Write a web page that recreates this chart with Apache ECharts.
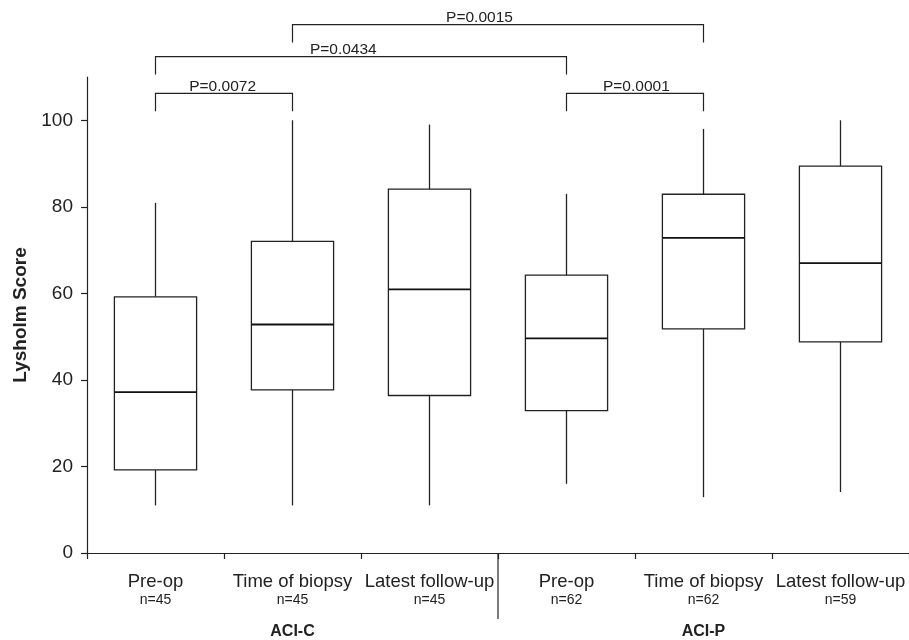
<!DOCTYPE html>
<html>
<head>
<meta charset="utf-8">
<script src="https://cdn.jsdelivr.net/npm/echarts@6/dist/echarts.min.js"></script>
<style>html,body{margin:0;padding:0;background:#fff;}#main{width:909px;height:640px;}</style>
</head>
<body>
<div id="main"></div>
<script>
// ---- data ----
var categories = ['Pre-op', 'Time of biopsy', 'Latest follow-up', 'Pre-op', 'Time of biopsy', 'Latest follow-up'];
var sampleSizes = [45, 45, 45, 62, 62, 59];
var groupNames = ['ACI-C', 'ACI-P'];
var groupStarts = [3];               // category index where the second group starts
var whiskerLow = [11, 11, 11, 16, 12.9, 14.1];
var quartile1 = [19.2, 37.7, 36.4, 32.9, 51.8, 48.8];
var medians = [37.2, 52.8, 60.9, 49.6, 72.8, 67.0];
var quartile3 = [59.2, 72.0, 84.1, 64.2, 82.9, 89.4];
var whiskerHigh = [80.9, 100, 99.0, 83.0, 98.0, 100];
var yTicks = [0, 20, 40, 60, 80, 100];
var bracketFrom = [0, 0, 1, 3];
var bracketTo = [1, 3, 4, 4];
var bracketLevel = [106.2, 114.7, 122.1, 106.2];
var bracketLabels = ['P=0.0072', 'P=0.0434', 'P=0.0015', 'P=0.0001'];

// ---- styles ----
var FONT = "'Liberation Sans', Arial, Helvetica, sans-serif";
var INK = '#222';
var labelShift = [-0.01, -0.043, -0.045, 0.01]; // horizontal shift of P labels (fraction of bracket span)

var boxData = categories.map(function (c, i) {
  return [i, whiskerLow[i], quartile1[i], medians[i], quartile3[i], whiskerHigh[i]];
});
var bracketData = bracketLabels.map(function (l, i) {
  return [bracketFrom[i], bracketTo[i], bracketLevel[i]];
});

var chart = echarts.init(document.getElementById('main'), null, {renderer: 'canvas'});

var option = {
  backgroundColor: '#fff',
  animation: false,
  grid: {left: 87, top: 77, width: 825, bottom: 86, containLabel: false},
  xAxis: [{
    type: 'category',
    data: categories,
    boundaryGap: true,
    axisLine: {show: true, lineStyle: {color: INK, width: 1.2}},
    axisTick: {show: true, interval: 0, alignWithLabel: false, length: 6, lineStyle: {color: INK, width: 1.2}},
    axisLabel: {
      interval: 0,
      margin: 19,
      color: INK,
      fontFamily: FONT,
      formatter: function (v, i) { return '{a|' + v + '}\n{b|n=' + sampleSizes[i] + '}'; },
      rich: {
        a: {fontSize: 18.5, fontFamily: FONT, color: INK, lineHeight: 19},
        b: {fontSize: 14, fontFamily: FONT, color: INK, lineHeight: 18}
      }
    },
    splitLine: {show: false}
  }, {
    type: 'category',
    position: 'bottom',
    offset: 63,
    data: groupNames,
    axisLine: {show: false},
    axisTick: {show: false},
    axisLabel: {color: INK, fontFamily: FONT, fontSize: 16, fontWeight: 'bold'}
  }],
  yAxis: {
    type: 'value',
    min: 0,
    max: 110,
    interval: 20,
    name: 'Lysholm Score',
    nameLocation: 'middle',
    nameGap: 48,
    nameTextStyle: {color: INK, fontFamily: FONT, fontSize: 19, fontWeight: 'bold'},
    axisLine: {show: true, lineStyle: {color: INK, width: 1.2}},
    axisTick: {show: true, length: 6, customValues: yTicks, lineStyle: {color: INK, width: 1.2}},
    axisLabel: {color: INK, fontFamily: FONT, fontSize: 19, margin: 14, customValues: yTicks},
    splitLine: {show: false}
  },
  series: [{
    type: 'custom',
    name: 'boxes',
    xAxisIndex: 0,
    encode: {x: 0, y: [1, 2, 3, 4, 5]},
    data: boxData,
    renderItem: function (params, api) {
      var i = api.value(0);
      var w = api.size([1, 0])[0] * 0.6;
      var pLow = api.coord([i, api.value(1)]);
      var pQ1 = api.coord([i, api.value(2)]);
      var pMed = api.coord([i, api.value(3)]);
      var pQ3 = api.coord([i, api.value(4)]);
      var pHigh = api.coord([i, api.value(5)]);
      var x = pMed[0];
      var ls = {stroke: INK, lineWidth: 1.3, fill: null};
      return {
        type: 'group',
        children: [
          {type: 'line', shape: {x1: x, y1: pLow[1], x2: x, y2: pQ1[1]}, style: ls},
          {type: 'line', shape: {x1: x, y1: pQ3[1], x2: x, y2: pHigh[1]}, style: ls},
          {type: 'rect', shape: {x: x - w / 2, y: pQ3[1], width: w, height: pQ1[1] - pQ3[1]},
            style: {stroke: INK, lineWidth: 1.3, fill: '#fff'}},
          {type: 'line', shape: {x1: x - w / 2, y1: pMed[1], x2: x + w / 2, y2: pMed[1]},
            style: {stroke: '#111', lineWidth: 1.8}}
        ]
      };
    }
  }, {
    type: 'custom',
    name: 'brackets',
    clip: false,
    encode: {x: [0, 1], y: 2},
    data: bracketData,
    renderItem: function (params, api) {
      var idx = params.dataIndex;
      var a = api.coord([api.value(0), api.value(2)]);
      var b = api.coord([api.value(1), api.value(2)]);
      var drop = api.coord([0, api.value(2) - 4.1])[1];
      var ls = {stroke: INK, lineWidth: 1.2, fill: null};
      var tx = (a[0] + b[0]) / 2 + (b[0] - a[0]) * labelShift[idx];
      return {
        type: 'group',
        children: [
          {type: 'polyline', shape: {points: [[a[0], drop], [a[0], a[1]], [b[0], b[1]], [b[0], drop]]}, style: ls},
          {type: 'text', style: {text: bracketLabels[idx], x: tx, y: a[1] + 1, align: 'center', verticalAlign: 'bottom',
            fill: INK, fontSize: 15.5, fontFamily: FONT}}
        ]
      };
    }
  }, {
    type: 'custom',
    name: 'groupSeparator',
    clip: false,
    encode: {x: 0, y: 1},
    data: groupStarts.map(function (g) { return [g, 0]; }),
    renderItem: function (params, api) {
      var g = api.value(0);
      var p0 = api.coord([g - 1, 0]);
      var p1 = api.coord([g, 0]);
      var x = (p0[0] + p1[0]) / 2;
      return {type: 'line', shape: {x1: x, y1: p1[1], x2: x, y2: p1[1] + 66},
        style: {stroke: INK, lineWidth: 1.2}};
    }
  }]
};
chart.setOption(option);
</script>
</body>
</html>
